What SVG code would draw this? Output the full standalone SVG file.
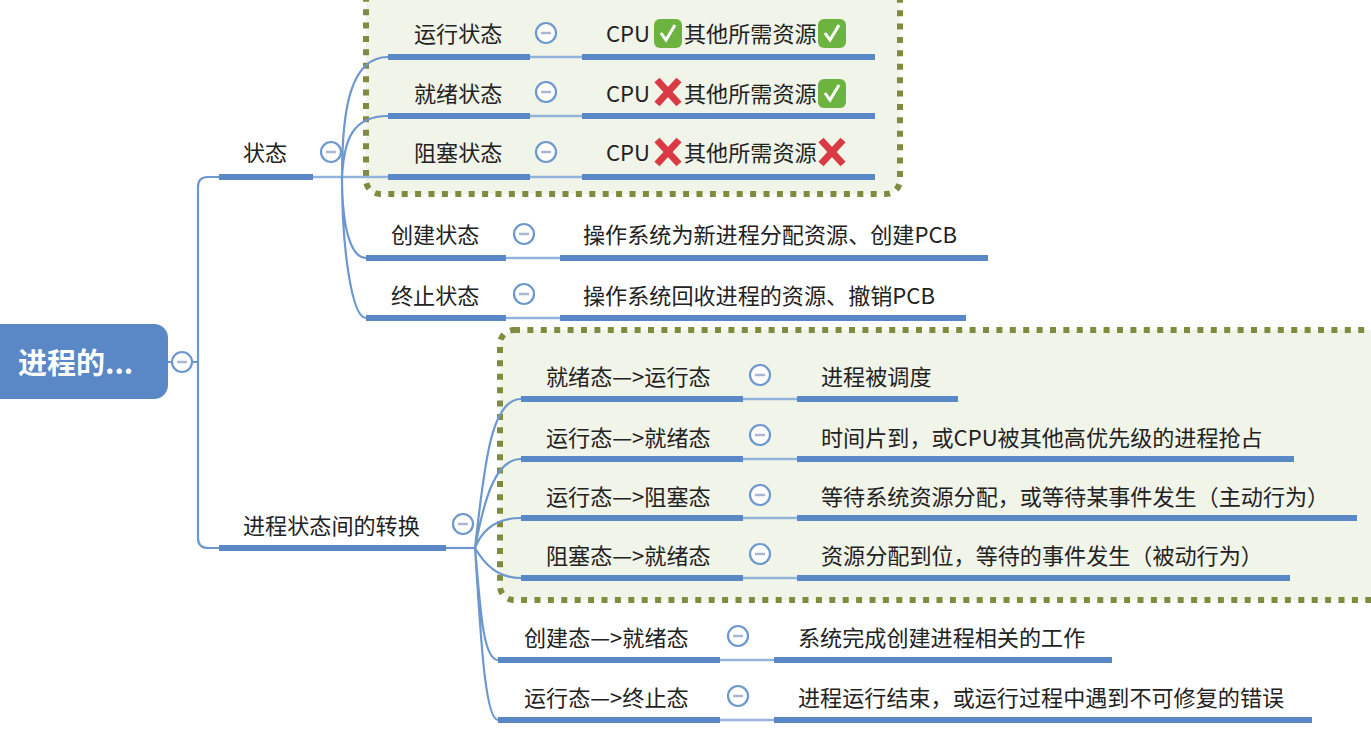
<svg xmlns="http://www.w3.org/2000/svg" width="1371" height="733" viewBox="0 0 1371 733">
<style>
.t{font-family:"Noto Sans CJK SC","Liberation Sans",sans-serif;font-size:22.1px;fill:#222}
.root{font-family:"Noto Sans CJK SC","Liberation Sans",sans-serif;font-size:29px;font-weight:700;fill:#fff}
.bar{fill:#5a87c6}
.thin{fill:none;stroke:#6d97cf;stroke-width:2.2}
.link{fill:none;stroke:#93b2dc;stroke-width:2.5}
.box{fill:#f1f4e8;stroke:#7f8c3f;stroke-width:6;stroke-dasharray:6 7.4}
.col circle{fill:#fff;stroke:#6d97cf;stroke-width:2.2}
.col line{stroke:#a9b7d3;stroke-width:2.5}
.ok rect{fill:#6cb33f}
.ok path{fill:none;stroke:#fff;stroke-width:3}
.no path{fill:none;stroke:#d93a44;stroke-width:7}
</style>
<defs>
<g id="collapse" class="col"><circle r="10"/><line x1="-5" x2="5"/></g>
<g id="yes" class="ok"><rect x="-14" y="-14" width="28" height="29" rx="6"/><path d="M-7 0 L-2 7 L7 -8"/></g>
<g id="cross" class="no"><path d="M-11 -12 L11 12 M11 -12 L-11 12"/></g>
</defs>

<!-- highlighted regions behind the branches -->
<rect class="box" x="366" y="-12" width="534" height="206" rx="14"/>
<rect class="box" x="500" y="330" width="890" height="270" rx="14"/>

<!-- connectors -->
<g id="connectors">
<path class="thin" d="M168 362H198M198 362V187Q198 177 208 177H219M198 362V538Q198 548 208 548H219"/>
<path class="link" d="M313 177H388M530 57H582M530 116H582M530 177H582M506 258H560M506 318H560"/>
<path class="thin" d="M342 177C342 110 350 57 388 57M342 177C344 140 352 116 388 116M342 177C342 225 350 258 366 258M342 177C342 250 352 318 366 318"/>
<path class="thin" d="M446 548H475"/>
<path class="link" d="M743 399H797M743 459H797M743 518H797M743 578H797M720 660H774M720 720H774"/>
<path class="thin" d="M475 548C484 470 490 399 521 399M475 548C484 500 495 459 521 459M475 548C482 530 495 518 521 518M475 548C485 565 498 578 521 578M475 548C480 600 482 660 498 660M475 548C480 620 484 720 498 720"/>
</g>

<!-- root -->
<g id="root">
<rect x="-20" y="324" width="188" height="75" rx="14" fill="#5a87c6"/>
<text class="root" x="18" y="374">进程的...</text>
<use href="#collapse" x="182" y="362"/>
</g>

<!-- first branch: states -->
<g id="states">
<rect class="bar" x="219" y="174" width="94" height="6"/>
<text class="t" x="243" y="161">状态</text>
<use href="#collapse" x="331" y="152"/>
</g>
<g id="running">
<rect class="bar" x="388" y="54" width="142" height="6"/><rect class="bar" x="582" y="54" width="293" height="6"/>
<text class="t" x="414" y="42">运行状态</text><use href="#collapse" x="546" y="33"/>
<text class="t" x="606" y="42">CPU</text><use href="#yes" x="668" y="33"/>
<text class="t" x="684" y="42">其他所需资源</text><use href="#yes" x="832" y="33"/>
</g>
<g id="ready">
<rect class="bar" x="388" y="113" width="142" height="6"/><rect class="bar" x="582" y="113" width="293" height="6"/>
<text class="t" x="414" y="102">就绪状态</text><use href="#collapse" x="546" y="92"/>
<text class="t" x="606" y="102">CPU</text><use href="#cross" x="668" y="92"/>
<text class="t" x="684" y="102">其他所需资源</text><use href="#yes" x="832" y="93"/>
</g>
<g id="blocked">
<rect class="bar" x="388" y="174" width="142" height="6"/><rect class="bar" x="582" y="174" width="293" height="6"/>
<text class="t" x="414" y="161">阻塞状态</text><use href="#collapse" x="546" y="152"/>
<text class="t" x="606" y="161">CPU</text><use href="#cross" x="668" y="152"/>
<text class="t" x="684" y="161">其他所需资源</text><use href="#cross" x="832" y="152"/>
</g>
<g id="created">
<rect class="bar" x="366" y="255" width="140" height="6"/><rect class="bar" x="560" y="255" width="428" height="6"/>
<text class="t" x="391" y="243">创建状态</text><use href="#collapse" x="524" y="234"/>
<text class="t" x="583" y="243">操作系统为新进程分配资源、创建PCB</text>
</g>
<g id="terminated">
<rect class="bar" x="366" y="315" width="140" height="6"/><rect class="bar" x="560" y="315" width="406" height="6"/>
<text class="t" x="391" y="304">终止状态</text><use href="#collapse" x="524" y="294"/>
<text class="t" x="583" y="304">操作系统回收进程的资源、撤销PCB</text>
</g>

<!-- second branch: transitions -->
<g id="transitions">
<rect class="bar" x="219" y="545" width="227" height="6"/>
<text class="t" x="243" y="534">进程状态间的转换</text>
<use href="#collapse" x="463" y="524"/>
</g>
<g id="t1">
<rect class="bar" x="521" y="396" width="222" height="6"/><rect class="bar" x="797" y="396" width="161" height="6"/>
<text class="t" x="546" y="385">就绪态—&gt;运行态</text><use href="#collapse" x="760" y="375"/>
<text class="t" x="821" y="385">进程被调度</text>
</g>
<g id="t2">
<rect class="bar" x="521" y="456" width="222" height="6"/><rect class="bar" x="797" y="456" width="497" height="6"/>
<text class="t" x="546" y="446">运行态—&gt;就绪态</text><use href="#collapse" x="760" y="435"/>
<text class="t" x="821" y="446">时间片到，或CPU被其他高优先级的进程抢占</text>
</g>
<g id="t3">
<rect class="bar" x="521" y="515" width="222" height="6"/><rect class="bar" x="797" y="515" width="560" height="6"/>
<text class="t" x="546" y="505">运行态—&gt;阻塞态</text><use href="#collapse" x="760" y="495"/>
<text class="t" x="821" y="505">等待系统资源分配，或等待某事件发生（主动行为）</text>
</g>
<g id="t4">
<rect class="bar" x="521" y="575" width="222" height="6"/><rect class="bar" x="797" y="575" width="493" height="6"/>
<text class="t" x="546" y="564">阻塞态—&gt;就绪态</text><use href="#collapse" x="760" y="554"/>
<text class="t" x="821" y="564">资源分配到位，等待的事件发生（被动行为）</text>
</g>
<g id="t5">
<rect class="bar" x="498" y="657" width="222" height="6"/><rect class="bar" x="774" y="657" width="338" height="6"/>
<text class="t" x="524" y="646">创建态—&gt;就绪态</text><use href="#collapse" x="738" y="636"/>
<text class="t" x="798" y="646">系统完成创建进程相关的工作</text>
</g>
<g id="t6">
<rect class="bar" x="498" y="717" width="222" height="6"/><rect class="bar" x="774" y="717" width="538" height="6"/>
<text class="t" x="524" y="706">运行态—&gt;终止态</text><use href="#collapse" x="738" y="696"/>
<text class="t" x="798" y="706">进程运行结束，或运行过程中遇到不可修复的错误</text>
</g>
</svg>
